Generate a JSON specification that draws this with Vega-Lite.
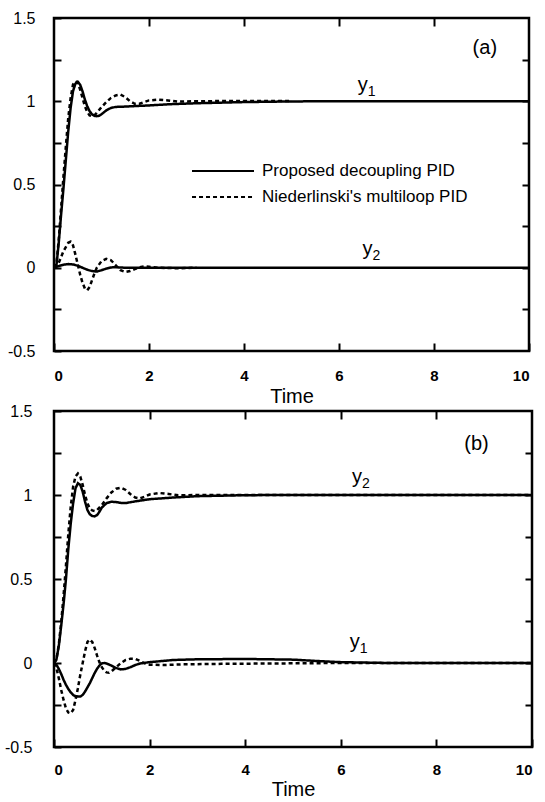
{
  "$schema": "https://vega.github.io/schema/vega-lite/v6.json",
  "background": "white",
  "padding": {"left": 3, "top": 8, "right": 5, "bottom": 3},
  "spacing": -7,
  "align": "none",
  "datasets": {
    "a": [
      {"c":"N","o":"y1","t":0,"v":0},{"c":"N","o":"y1","t":0.05,"v":0.02},{"c":"N","o":"y1","t":0.1,"v":0.17},{"c":"N","o":"y1","t":0.15,"v":0.36},{"c":"N","o":"y1","t":0.2,"v":0.55},{"c":"N","o":"y1","t":0.25,"v":0.73},{"c":"N","o":"y1","t":0.3,"v":0.9},{"c":"N","o":"y1","t":0.35,"v":1.02},{"c":"N","o":"y1","t":0.4,"v":1.1},{"c":"N","o":"y1","t":0.45,"v":1.12},{"c":"N","o":"y1","t":0.5,"v":1.11},{"c":"N","o":"y1","t":0.55,"v":1.07},{"c":"N","o":"y1","t":0.6,"v":1.02},{"c":"N","o":"y1","t":0.65,"v":0.97},{"c":"N","o":"y1","t":0.7,"v":0.935},{"c":"N","o":"y1","t":0.75,"v":0.915},{"c":"N","o":"y1","t":0.8,"v":0.91},{"c":"N","o":"y1","t":0.85,"v":0.915},{"c":"N","o":"y1","t":0.9,"v":0.93},{"c":"N","o":"y1","t":1.0,"v":0.965},{"c":"N","o":"y1","t":1.1,"v":0.995},{"c":"N","o":"y1","t":1.2,"v":1.02},{"c":"N","o":"y1","t":1.3,"v":1.035},{"c":"N","o":"y1","t":1.4,"v":1.04},{"c":"N","o":"y1","t":1.5,"v":1.025},{"c":"N","o":"y1","t":1.6,"v":1.0},{"c":"N","o":"y1","t":1.7,"v":0.985},{"c":"N","o":"y1","t":1.8,"v":0.985},{"c":"N","o":"y1","t":1.9,"v":0.995},{"c":"N","o":"y1","t":2.0,"v":1.005},{"c":"N","o":"y1","t":2.2,"v":1.01},{"c":"N","o":"y1","t":2.4,"v":1.005},{"c":"N","o":"y1","t":2.6,"v":0.998},{"c":"N","o":"y1","t":3,"v":1.0},{"c":"N","o":"y1","t":4,"v":1.002},{"c":"N","o":"y1","t":5,"v":1.001},
      {"c":"N","o":"y2","t":0,"v":0},{"c":"N","o":"y2","t":0.1,"v":0.03},{"c":"N","o":"y2","t":0.2,"v":0.1},{"c":"N","o":"y2","t":0.3,"v":0.15},{"c":"N","o":"y2","t":0.35,"v":0.157},{"c":"N","o":"y2","t":0.4,"v":0.135},{"c":"N","o":"y2","t":0.45,"v":0.08},{"c":"N","o":"y2","t":0.5,"v":0.02},{"c":"N","o":"y2","t":0.55,"v":-0.04},{"c":"N","o":"y2","t":0.6,"v":-0.09},{"c":"N","o":"y2","t":0.65,"v":-0.125},{"c":"N","o":"y2","t":0.7,"v":-0.135},{"c":"N","o":"y2","t":0.75,"v":-0.115},{"c":"N","o":"y2","t":0.8,"v":-0.075},{"c":"N","o":"y2","t":0.85,"v":-0.035},{"c":"N","o":"y2","t":0.9,"v":0.0},{"c":"N","o":"y2","t":1.0,"v":0.04},{"c":"N","o":"y2","t":1.1,"v":0.054},{"c":"N","o":"y2","t":1.2,"v":0.045},{"c":"N","o":"y2","t":1.3,"v":0.015},{"c":"N","o":"y2","t":1.4,"v":-0.015},{"c":"N","o":"y2","t":1.5,"v":-0.025},{"c":"N","o":"y2","t":1.6,"v":-0.02},{"c":"N","o":"y2","t":1.7,"v":-0.008},{"c":"N","o":"y2","t":1.8,"v":0.003},{"c":"N","o":"y2","t":1.9,"v":0.008},{"c":"N","o":"y2","t":2.0,"v":0.006},{"c":"N","o":"y2","t":2.2,"v":0.0},{"c":"N","o":"y2","t":2.6,"v":-0.003},{"c":"N","o":"y2","t":3.0,"v":0.0},
      {"c":"P","o":"y1","t":0,"v":0},{"c":"P","o":"y1","t":0.05,"v":0.01},{"c":"P","o":"y1","t":0.1,"v":0.15},{"c":"P","o":"y1","t":0.15,"v":0.32},{"c":"P","o":"y1","t":0.2,"v":0.48},{"c":"P","o":"y1","t":0.25,"v":0.65},{"c":"P","o":"y1","t":0.3,"v":0.82},{"c":"P","o":"y1","t":0.35,"v":0.96},{"c":"P","o":"y1","t":0.4,"v":1.06},{"c":"P","o":"y1","t":0.45,"v":1.105},{"c":"P","o":"y1","t":0.5,"v":1.117},{"c":"P","o":"y1","t":0.55,"v":1.1},{"c":"P","o":"y1","t":0.6,"v":1.06},{"c":"P","o":"y1","t":0.65,"v":1.01},{"c":"P","o":"y1","t":0.7,"v":0.97},{"c":"P","o":"y1","t":0.75,"v":0.94},{"c":"P","o":"y1","t":0.8,"v":0.922},{"c":"P","o":"y1","t":0.85,"v":0.913},{"c":"P","o":"y1","t":0.9,"v":0.91},{"c":"P","o":"y1","t":0.95,"v":0.913},{"c":"P","o":"y1","t":1.0,"v":0.922},{"c":"P","o":"y1","t":1.1,"v":0.945},{"c":"P","o":"y1","t":1.2,"v":0.96},{"c":"P","o":"y1","t":1.3,"v":0.966},{"c":"P","o":"y1","t":1.5,"v":0.968},{"c":"P","o":"y1","t":2,"v":0.975},{"c":"P","o":"y1","t":2.5,"v":0.983},{"c":"P","o":"y1","t":3,"v":0.988},{"c":"P","o":"y1","t":4,"v":0.995},{"c":"P","o":"y1","t":5,"v":0.999},{"c":"P","o":"y1","t":6,"v":1.0},{"c":"P","o":"y1","t":8,"v":1.0},{"c":"P","o":"y1","t":10,"v":1.0},
      {"c":"P","o":"y2","t":0,"v":0},{"c":"P","o":"y2","t":0.1,"v":0.01},{"c":"P","o":"y2","t":0.2,"v":0.018},{"c":"P","o":"y2","t":0.3,"v":0.022},{"c":"P","o":"y2","t":0.4,"v":0.02},{"c":"P","o":"y2","t":0.5,"v":0.012},{"c":"P","o":"y2","t":0.6,"v":0.0},{"c":"P","o":"y2","t":0.7,"v":-0.012},{"c":"P","o":"y2","t":0.8,"v":-0.02},{"c":"P","o":"y2","t":0.9,"v":-0.023},{"c":"P","o":"y2","t":1.0,"v":-0.015},{"c":"P","o":"y2","t":1.1,"v":-0.005},{"c":"P","o":"y2","t":1.2,"v":0.002},{"c":"P","o":"y2","t":1.3,"v":0.003},{"c":"P","o":"y2","t":1.5,"v":0.0},{"c":"P","o":"y2","t":2,"v":0.0},{"c":"P","o":"y2","t":10,"v":0.0}
    ],
    "b": [
      {"c":"N","o":"y2","t":0,"v":0},{"c":"N","o":"y2","t":0.05,"v":0.02},{"c":"N","o":"y2","t":0.1,"v":0.11},{"c":"N","o":"y2","t":0.15,"v":0.24},{"c":"N","o":"y2","t":0.2,"v":0.4},{"c":"N","o":"y2","t":0.25,"v":0.58},{"c":"N","o":"y2","t":0.3,"v":0.77},{"c":"N","o":"y2","t":0.35,"v":0.93},{"c":"N","o":"y2","t":0.4,"v":1.05},{"c":"N","o":"y2","t":0.45,"v":1.11},{"c":"N","o":"y2","t":0.5,"v":1.128},{"c":"N","o":"y2","t":0.55,"v":1.11},{"c":"N","o":"y2","t":0.6,"v":1.06},{"c":"N","o":"y2","t":0.65,"v":1.0},{"c":"N","o":"y2","t":0.7,"v":0.95},{"c":"N","o":"y2","t":0.75,"v":0.92},{"c":"N","o":"y2","t":0.8,"v":0.908},{"c":"N","o":"y2","t":0.85,"v":0.905},{"c":"N","o":"y2","t":0.9,"v":0.91},{"c":"N","o":"y2","t":1.0,"v":0.94},{"c":"N","o":"y2","t":1.1,"v":0.98},{"c":"N","o":"y2","t":1.2,"v":1.015},{"c":"N","o":"y2","t":1.3,"v":1.037},{"c":"N","o":"y2","t":1.4,"v":1.043},{"c":"N","o":"y2","t":1.5,"v":1.03},{"c":"N","o":"y2","t":1.6,"v":1.005},{"c":"N","o":"y2","t":1.7,"v":0.985},{"c":"N","o":"y2","t":1.8,"v":0.98},{"c":"N","o":"y2","t":1.9,"v":0.99},{"c":"N","o":"y2","t":2.0,"v":1.003},{"c":"N","o":"y2","t":2.2,"v":1.012},{"c":"N","o":"y2","t":2.4,"v":1.006},{"c":"N","o":"y2","t":2.6,"v":0.998},{"c":"N","o":"y2","t":3.0,"v":1.0},{"c":"N","o":"y2","t":10,"v":1.0},
      {"c":"N","o":"y1","t":0,"v":0},{"c":"N","o":"y1","t":0.05,"v":-0.03},{"c":"N","o":"y1","t":0.1,"v":-0.09},{"c":"N","o":"y1","t":0.15,"v":-0.16},{"c":"N","o":"y1","t":0.2,"v":-0.22},{"c":"N","o":"y1","t":0.25,"v":-0.27},{"c":"N","o":"y1","t":0.3,"v":-0.295},{"c":"N","o":"y1","t":0.35,"v":-0.3},{"c":"N","o":"y1","t":0.4,"v":-0.28},{"c":"N","o":"y1","t":0.45,"v":-0.22},{"c":"N","o":"y1","t":0.5,"v":-0.15},{"c":"N","o":"y1","t":0.55,"v":-0.07},{"c":"N","o":"y1","t":0.6,"v":0.0},{"c":"N","o":"y1","t":0.65,"v":0.07},{"c":"N","o":"y1","t":0.7,"v":0.125},{"c":"N","o":"y1","t":0.75,"v":0.14},{"c":"N","o":"y1","t":0.8,"v":0.125},{"c":"N","o":"y1","t":0.85,"v":0.09},{"c":"N","o":"y1","t":0.9,"v":0.045},{"c":"N","o":"y1","t":0.95,"v":0.005},{"c":"N","o":"y1","t":1.0,"v":-0.025},{"c":"N","o":"y1","t":1.05,"v":-0.045},{"c":"N","o":"y1","t":1.1,"v":-0.056},{"c":"N","o":"y1","t":1.15,"v":-0.058},{"c":"N","o":"y1","t":1.2,"v":-0.05},{"c":"N","o":"y1","t":1.3,"v":-0.025},{"c":"N","o":"y1","t":1.4,"v":0.0},{"c":"N","o":"y1","t":1.5,"v":0.018},{"c":"N","o":"y1","t":1.6,"v":0.026},{"c":"N","o":"y1","t":1.7,"v":0.025},{"c":"N","o":"y1","t":1.8,"v":0.012},{"c":"N","o":"y1","t":1.9,"v":-0.002},{"c":"N","o":"y1","t":2.0,"v":-0.01},{"c":"N","o":"y1","t":2.3,"v":-0.012},{"c":"N","o":"y1","t":2.7,"v":-0.008},{"c":"N","o":"y1","t":3.5,"v":-0.005},{"c":"N","o":"y1","t":5,"v":-0.002},{"c":"N","o":"y1","t":6,"v":0.0},{"c":"N","o":"y1","t":10,"v":0.0},
      {"c":"P","o":"y2","t":0,"v":0},{"c":"P","o":"y2","t":0.05,"v":0.02},{"c":"P","o":"y2","t":0.1,"v":0.1},{"c":"P","o":"y2","t":0.15,"v":0.22},{"c":"P","o":"y2","t":0.2,"v":0.35},{"c":"P","o":"y2","t":0.25,"v":0.5},{"c":"P","o":"y2","t":0.3,"v":0.68},{"c":"P","o":"y2","t":0.35,"v":0.83},{"c":"P","o":"y2","t":0.4,"v":0.95},{"c":"P","o":"y2","t":0.45,"v":1.04},{"c":"P","o":"y2","t":0.5,"v":1.07},{"c":"P","o":"y2","t":0.55,"v":1.06},{"c":"P","o":"y2","t":0.6,"v":1.02},{"c":"P","o":"y2","t":0.65,"v":0.96},{"c":"P","o":"y2","t":0.7,"v":0.91},{"c":"P","o":"y2","t":0.75,"v":0.885},{"c":"P","o":"y2","t":0.8,"v":0.875},{"c":"P","o":"y2","t":0.85,"v":0.873},{"c":"P","o":"y2","t":0.9,"v":0.88},{"c":"P","o":"y2","t":0.95,"v":0.9},{"c":"P","o":"y2","t":1.0,"v":0.925},{"c":"P","o":"y2","t":1.1,"v":0.952},{"c":"P","o":"y2","t":1.2,"v":0.96},{"c":"P","o":"y2","t":1.3,"v":0.958},{"c":"P","o":"y2","t":1.4,"v":0.953},{"c":"P","o":"y2","t":1.5,"v":0.952},{"c":"P","o":"y2","t":1.7,"v":0.962},{"c":"P","o":"y2","t":2.0,"v":0.975},{"c":"P","o":"y2","t":2.5,"v":0.985},{"c":"P","o":"y2","t":3,"v":0.993},{"c":"P","o":"y2","t":4,"v":0.999},{"c":"P","o":"y2","t":5,"v":1.0},{"c":"P","o":"y2","t":10,"v":1.0},
      {"c":"P","o":"y1","t":0,"v":0},{"c":"P","o":"y1","t":0.05,"v":-0.01},{"c":"P","o":"y1","t":0.1,"v":-0.035},{"c":"P","o":"y1","t":0.15,"v":-0.065},{"c":"P","o":"y1","t":0.2,"v":-0.1},{"c":"P","o":"y1","t":0.25,"v":-0.13},{"c":"P","o":"y1","t":0.3,"v":-0.155},{"c":"P","o":"y1","t":0.35,"v":-0.175},{"c":"P","o":"y1","t":0.4,"v":-0.19},{"c":"P","o":"y1","t":0.45,"v":-0.198},{"c":"P","o":"y1","t":0.5,"v":-0.2},{"c":"P","o":"y1","t":0.55,"v":-0.2},{"c":"P","o":"y1","t":0.6,"v":-0.19},{"c":"P","o":"y1","t":0.65,"v":-0.17},{"c":"P","o":"y1","t":0.7,"v":-0.145},{"c":"P","o":"y1","t":0.75,"v":-0.12},{"c":"P","o":"y1","t":0.8,"v":-0.09},{"c":"P","o":"y1","t":0.85,"v":-0.06},{"c":"P","o":"y1","t":0.9,"v":-0.035},{"c":"P","o":"y1","t":0.95,"v":-0.015},{"c":"P","o":"y1","t":1.0,"v":-0.003},{"c":"P","o":"y1","t":1.05,"v":0.0},{"c":"P","o":"y1","t":1.1,"v":-0.003},{"c":"P","o":"y1","t":1.2,"v":-0.015},{"c":"P","o":"y1","t":1.3,"v":-0.03},{"c":"P","o":"y1","t":1.4,"v":-0.038},{"c":"P","o":"y1","t":1.5,"v":-0.035},{"c":"P","o":"y1","t":1.6,"v":-0.025},{"c":"P","o":"y1","t":1.7,"v":-0.012},{"c":"P","o":"y1","t":1.8,"v":-0.003},{"c":"P","o":"y1","t":2.0,"v":0.005},{"c":"P","o":"y1","t":2.5,"v":0.018},{"c":"P","o":"y1","t":3,"v":0.022},{"c":"P","o":"y1","t":4,"v":0.024},{"c":"P","o":"y1","t":5,"v":0.02},{"c":"P","o":"y1","t":5.5,"v":0.012},{"c":"P","o":"y1","t":6,"v":0.005},{"c":"P","o":"y1","t":7,"v":0.0},{"c":"P","o":"y1","t":10,"v":0.0}
    ],
    "la": [
      {"main":"(a)","sub":"","t":9.07,"v":1.284},
      {"main":"y","sub":"1","t":6.5,"v":1.06},
      {"main":"y","sub":"2","t":6.6,"v":0.075}
    ],
    "lb": [
      {"main":"(b)","sub":"","t":8.84,"v":1.265},
      {"main":"y","sub":"2","t":6.34,"v":1.074},
      {"main":"y","sub":"1","t":6.29,"v":0.089}
    ]
  },
  "vconcat": [
    {
      "width": 475,
      "height": 333,
      "layer": [
        {
          "data": {"name": "a"},
          "mark": {"type": "line", "color": "black", "strokeWidth": 2.5, "clip": true},
          "encoding": {
            "x": {"field": "t", "type": "quantitative", "scale": {"domain": [0, 10], "nice": false},
              "axis": {"orient": "bottom", "values": [0,2,4,6,8,10], "format": "d", "offset": -8, "tickSize": 8, "tickColor": "black", "tickWidth": 2, "labelFontSize": 15, "labelFontWeight": "bold", "labelPadding": 17, "title": "Time", "titleFontSize": 20, "titleFontWeight": "normal", "titlePadding": 3}},
            "y": {"field": "v", "type": "quantitative", "scale": {"domain": [-0.5, 1.5], "nice": false, "zero": false},
              "axis": {"orient": "left", "values": [-0.5,-0.25,0,0.25,0.5,0.75,1,1.25,1.5], "labelExpr": "datum.value % 0.5 == 0 ? '' + datum.value : ''", "offset": -7, "tickSize": 7, "tickColor": "black", "tickWidth": 2, "labelFontSize": 16, "labelPadding": 19, "title": null}},
            "detail": {"field": "o"},
            "order": {"field": "t", "type": "quantitative"},
            "strokeDash": {"field": "c", "type": "nominal",
              "scale": {"domain": ["P", "N"], "range": [[1, 0], [4, 3]]},
              "legend": {"orient": "none", "legendX": 160, "legendY": 144, "title": null, "direction": "vertical",
                "symbolType": "M-4,0H4", "symbolSize": 240, "symbolStrokeWidth": 2, "symbolStrokeColor": "black",
                "labelFontSize": 17, "labelColor": "black", "labelOffset": 30, "padding": 0, "rowPadding": 9, "labelLimit": 0,
                "labelExpr": "datum.value == 'P' ? 'Proposed decoupling PID' : 'Niederlinski\\'s multiloop PID'"}}
          }
        },
        {
          "data": {"name": "la"},
          "mark": {"type": "text", "fontSize": 20, "align": "center", "baseline": "alphabetic", "color": "black"},
          "encoding": {
            "x": {"field": "t", "type": "quantitative", "axis": {"orient": "top", "values": [2,4,6,8], "labels": false, "offset": -8, "tickSize": 8, "tickColor": "black", "tickWidth": 2, "title": null}},
            "y": {"field": "v", "type": "quantitative", "axis": {"orient": "right", "values": [-0.25,0,0.25,0.5,0.75,1,1.25], "labels": false, "offset": -7, "tickSize": 7, "tickColor": "black", "tickWidth": 2, "title": null}},
            "text": {"field": "main"}
          }
        },
        {
          "data": {"name": "la"},
          "mark": {"type": "text", "fontSize": 14, "align": "left", "baseline": "alphabetic", "dx": 5, "dy": 5, "color": "black"},
          "encoding": {
            "x": {"field": "t", "type": "quantitative", "axis": null},
            "y": {"field": "v", "type": "quantitative", "axis": null},
            "text": {"field": "sub"}
          }
        }
      ],
      "resolve": {"axis": {"x": "independent", "y": "independent"}}
    },
    {
      "width": 478,
      "height": 336,
      "layer": [
        {
          "data": {"name": "b"},
          "mark": {"type": "line", "color": "black", "strokeWidth": 2.5, "clip": true},
          "encoding": {
            "x": {"field": "t", "type": "quantitative", "scale": {"domain": [0, 10], "nice": false},
              "axis": {"orient": "bottom", "values": [0,2,4,6,8,10], "format": "d", "offset": -8, "tickSize": 8, "tickColor": "black", "tickWidth": 2, "labelFontSize": 15, "labelFontWeight": "bold", "labelPadding": 15, "title": "Time", "titleFontSize": 20, "titleFontWeight": "normal", "titlePadding": 2}},
            "y": {"field": "v", "type": "quantitative", "scale": {"domain": [-0.5, 1.5], "nice": false, "zero": false},
              "axis": {"orient": "left", "values": [-0.5,-0.25,0,0.25,0.5,0.75,1,1.25,1.5], "labelExpr": "datum.value % 0.5 == 0 ? '' + datum.value : ''", "offset": -7, "tickSize": 7, "tickColor": "black", "tickWidth": 2, "labelFontSize": 16, "labelPadding": 22, "title": null}},
            "detail": {"field": "o"},
            "order": {"field": "t", "type": "quantitative"},
            "strokeDash": {"field": "c", "type": "nominal",
              "scale": {"domain": ["P", "N"], "range": [[1, 0], [4, 3]]}, "legend": null}
          }
        },
        {
          "data": {"name": "lb"},
          "mark": {"type": "text", "fontSize": 20, "align": "center", "baseline": "alphabetic", "color": "black"},
          "encoding": {
            "x": {"field": "t", "type": "quantitative", "axis": {"orient": "top", "values": [2,4,6,8], "labels": false, "offset": -8, "tickSize": 8, "tickColor": "black", "tickWidth": 2, "title": null}},
            "y": {"field": "v", "type": "quantitative", "axis": {"orient": "right", "values": [-0.25,0,0.25,0.5,0.75,1,1.25], "labels": false, "offset": -7, "tickSize": 7, "tickColor": "black", "tickWidth": 2, "title": null}},
            "text": {"field": "main"}
          }
        },
        {
          "data": {"name": "lb"},
          "mark": {"type": "text", "fontSize": 14, "align": "left", "baseline": "alphabetic", "dx": 5, "dy": 5, "color": "black"},
          "encoding": {
            "x": {"field": "t", "type": "quantitative", "axis": null},
            "y": {"field": "v", "type": "quantitative", "axis": null},
            "text": {"field": "sub"}
          }
        }
      ],
      "resolve": {"axis": {"x": "independent", "y": "independent"}}
    }
  ],
  "resolve": {"legend": {"strokeDash": "independent"}, "scale": {"strokeDash": "independent"}},
  "config": {
    "font": "Liberation Sans",
    "view": {"stroke": "black", "strokeWidth": 2.5},
    "axis": {"domain": false, "grid": false, "labelColor": "black", "titleColor": "black", "labelFont": "Liberation Sans", "titleFont": "Liberation Sans"},
    "legend": {"labelFont": "Liberation Sans"},
    "text": {"font": "Liberation Sans"}
  }
}
